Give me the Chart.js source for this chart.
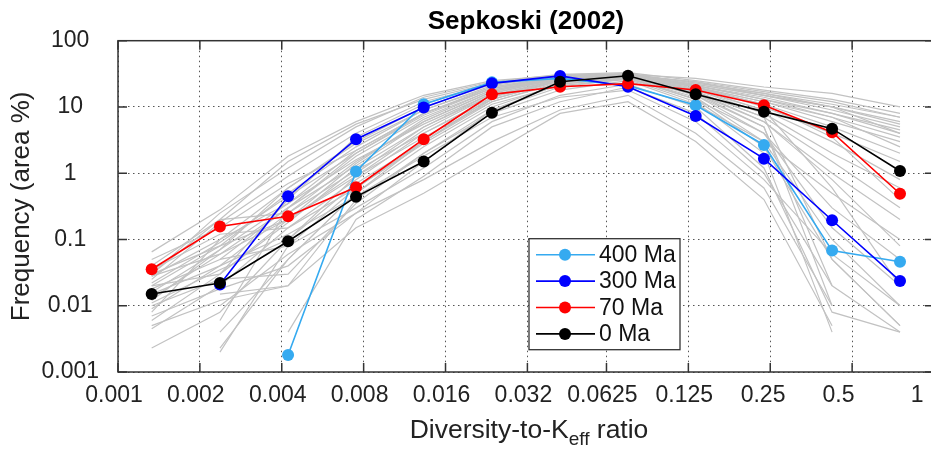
<!DOCTYPE html>
<html>
<head>
<meta charset="utf-8">
<script src="https://cdn.jsdelivr.net/npm/chart.js@4"></script>
<style>
  html, body { margin: 0; padding: 0; overflow: hidden; background: #fff; }
  #wrap { width: 940px; height: 452px; }
</style>
</head>
<body>
<div id="wrap"><canvas id="chart"></canvas></div>
<script>
// bin centres (diversity-to-K ratio), quarter-decade bins
const binCentres = [0.00133, 0.00237, 0.00422, 0.0075, 0.0133, 0.0237, 0.0422, 0.075, 0.133, 0.237, 0.422, 0.75];

const xTicks = [0.001, 0.002, 0.004, 0.008, 0.016, 0.032, 0.0625, 0.125, 0.25, 0.5, 1];
const xTickLabels = ["0.001", "0.002", "0.004", "0.008", "0.016", "0.032", "0.0625", "0.125", "0.25", "0.5", "1"];
const yTicks = [0.001, 0.01, 0.1, 1, 10, 100];
const yTickLabels = ["0.001", "0.01", "0.1", "1", "10", "100"];

const seriesNames = ["400 Ma", "300 Ma", "70 Ma", "0 Ma"];
const ma400 = [null, null, 0.0018, 1.06, 11, 23.5, 27, 21, 10.6, 2.67, 0.068, 0.046];
const ma300 = [null, 0.021, 0.45, 3.26, 9.8, 22.7, 29.4, 20.2, 7.3, 1.66, 0.195, 0.0237];
const ma70 = [0.0356, 0.157, 0.224, 0.615, 3.26, 15.5, 20.2, 22.5, 18, 10.6, 4.15, 0.49];
const ma0 = [0.015, 0.022, 0.094, 0.44, 1.5, 8.2, 24, 29.6, 15.5, 8.5, 4.7, 1.08];

// the other time slices (grey background curves)
const otherSlices = [
  [0.065, 0.28, 1.8, 6, 15, 25, 30, 31, 27, 20, 16, 10],
  [0.03, 0.25, 1.2, 5, 14, 24, 31, 33, 25, 18, 13, 8],
  [0.028, 0.1, 0.6, 3, 10, 22, 30, 30, 22, 15, 10, 6],
  [0.02, 0.08, 0.5, 2.5, 9, 20, 29, 31, 20, 12, 6, 3],
  [0.013, 0.06, 0.3, 1.8, 7, 18, 28, 30, 21, 14, 8, 4],
  [0.009, 0.04, 0.25, 1.5, 6, 17, 27, 31, 20, 10, 4, 1.5],
  [0.006, 0.03, 0.2, 1, 5, 15, 26, 30, 18, 8, 2, 0.6],
  [0.0045, 0.02, 0.15, 0.8, 4, 14, 25, 29, 16, 6, 1, 0.2],
  [0.0023, 0.008, 0.1, 0.7, 3, 12, 24, 28, 15, 4, 0.3, 0.05],
  [null, 0.0023, 0.05, 0.5, 2.5, 10, 22, 27, 14, 3, 0.1, 0.01],
  [0.03, 0.2, 0.25, 1.1, 4, 13, 25, 29, 19, 9, 3, 0.8],
  [0.028, 0.06, 0.2, 0.9, 3.5, 12, 23, 28, 17, 7, 1.5, 0.3],
  [null, 0.015, 0.02, 0.4, 2, 9, 20, 27, 13, 2.5, 0.05, 0.005],
  [null, 0.006, 0.3, 2, 8, 19, 28, 30, 16, 5, 0.02, null],
  [0.035, 0.12, 0.15, 0.6, 2.8, 11, 21, 26, 12, 2, 0.004, null],
  [null, 0.05, 0.08, 0.3, 1.2, 6, 15, 22, 10, 1.2, 0.008, 0.004],
  [0.02, 0.03, 0.4, 3.5, 11, 23, 30, 32, 23, 16, 11, 7],
  [null, null, 0.004, 0.2, 0.9, 5, 12, 20, 8, 1, 0.02, 0.004],
  [0.01, 0.025, 0.03, 0.35, 2, 8, 18, 25, 11, 3, 0.5, 0.1],
  [0.008, 0.1, 0.35, 1.6, 5.5, 16, 27, 30, 24, 15, 9, 5],
  [0.015, 0.04, 0.12, 0.45, 1.8, 7, 14, 18, 6, 0.8, 0.06, 0.01],
  [0.025, 0.18, 0.9, 4, 12, 22, 29, 32, 21, 13, 7, 2.5],
  [null, 0.01, 0.06, 0.25, 0.8, 3, 9, 15, 4, 0.6, 0.01, null],
  [0.05, 0.15, 0.7, 2.2, 8, 19, 28, 31, 22, 15, 10, 4],
  [0.005, 0.012, 0.02, 0.15, 0.5, 2, 8, 12, 3, 0.4, 0.005, null],
  [0.012, 0.07, 0.6, 2.8, 9, 21, 30, 30, 19, 11, 5, 2],
  [null, 0.002, 0.08, 0.6, 3, 14, 26, 29, 17, 6, 0.8, 0.08],
  [0.007, 0.018, 0.04, 0.25, 1.5, 9, 22, 28, 13, 4, 0.15, 0.02],
  [0.04, 0.2, 1.5, 5.5, 13, 23, 29, 30, 24, 17, 12, 7],
  [0.022, 0.09, 0.45, 2, 7.5, 19, 29, 31, 23, 16, 10, 5.5],
  [null, 0.03, 0.18, 1.2, 5, 16, 27, 30, 20, 12, 7, 3.5],
  [0.018, 0.05, 0.3, 1.3, 6, 17, 28, 30, 21, 13, 8, 4.5],
  [0.011, 0.035, 0.1, 0.9, 4.5, 15, 26, 29, 18, 9, 0.6, 0.02],
  [null, 0.004, 0.05, 0.5, 3, 13, 25, 28, 17, 7, 0.05, 0.005],
  [0.016, 0.07, 0.35, 2.2, 8, 20, 28, 29, 15, 5, 0.01, null],
  [0.03, 0.08, 0.2, 1.4, 6.5, 18, 27, 30, 20, 11, 3.5, 0.4]
];

const FONT = "'Liberation Sans', Arial, Helvetica, sans-serif";
Chart.defaults.font.family = FONT;
Chart.defaults.color = "#222";

const colours = ["#35aaf0", "#0000ff", "#ff0000", "#000000"];
const highlighted = [ma400, ma300, ma70, ma0];

function toPoints(values) {
  return values.map((v, i) => ({ x: binCentres[i], y: v }));
}

const datasets = [];
otherSlices.forEach((s) => {
  datasets.push({
    data: toPoints(s),
    borderColor: "#c2c2c2",
    borderWidth: 1.2,
    pointRadius: 0,
    order: 10,
  });
});
highlighted.forEach((s, i) => {
  datasets.push({
    label: seriesNames[i],
    data: toPoints(s),
    borderColor: colours[i],
    backgroundColor: colours[i],
    borderWidth: 1.6,
    pointRadius: 6,
    pointBorderWidth: 0,
    order: 4 - i,
  });
});

// axes box with inward ticks, like the original figure
const frame = {
  id: "frame",
  afterDatasetsDraw(chart) {
    const { ctx, chartArea: a, scales } = chart;
    ctx.save();
    ctx.strokeStyle = "#333";
    ctx.lineWidth = 1.5;
    ctx.beginPath();
    xTicks.forEach((v) => {
      const px = scales.x.getPixelForValue(v);
      ctx.moveTo(px, a.bottom);
      ctx.lineTo(px, a.bottom - 9);
      ctx.moveTo(px, a.top);
      ctx.lineTo(px, a.top + 9);
    });
    yTicks.forEach((v) => {
      const py = scales.y.getPixelForValue(v);
      ctx.moveTo(a.left, py);
      ctx.lineTo(a.left + 9, py);
      ctx.moveTo(a.right, py);
      ctx.lineTo(a.right - 9, py);
    });
    ctx.stroke();
    ctx.strokeRect(a.left, a.top, a.right - a.left, a.bottom - a.top);
    ctx.restore();
  },
};

// legend box inside the plot + x title with subscript
const extras = {
  id: "extras",
  afterDraw(chart) {
    const { ctx, chartArea: a } = chart;
    ctx.save();

    const left = a.left + 411;
    const top = a.top + 198;
    const w = 151;
    const h = 111;
    ctx.fillStyle = "#fff";
    ctx.fillRect(left, top, w, h);
    ctx.strokeStyle = "#333";
    ctx.lineWidth = 1.3;
    ctx.strokeRect(left, top, w, h);
    ctx.font = "23px " + FONT;
    ctx.textBaseline = "middle";
    ctx.textAlign = "left";
    seriesNames.forEach((name, i) => {
      const cy = top + 16 + i * 26.4;
      ctx.strokeStyle = colours[i];
      ctx.lineWidth = 1.6;
      ctx.beginPath();
      ctx.moveTo(left + 7, cy);
      ctx.lineTo(left + 66, cy);
      ctx.stroke();
      ctx.fillStyle = colours[i];
      ctx.beginPath();
      ctx.arc(left + 36, cy, 6, 0, Math.PI * 2);
      ctx.fill();
      ctx.fillStyle = "#111";
      ctx.fillText(name, left + 70, cy + 1);
    });

    // "Diversity-to-K_eff ratio"
    const main1 = "Diversity-to-K";
    const sub = "eff";
    const main2 = " ratio";
    const bigFont = "26.5px " + FONT;
    const smallFont = "19px " + FONT;
    ctx.font = bigFont;
    const w1 = ctx.measureText(main1).width;
    const w3 = ctx.measureText(main2).width;
    ctx.font = smallFont;
    const w2 = ctx.measureText(sub).width;
    const x0 = (a.left + a.right) / 2 + 3 - (w1 + w2 + w3) / 2;
    const base = a.bottom + 66;
    ctx.textBaseline = "alphabetic";
    ctx.fillStyle = "#222";
    ctx.font = bigFont;
    ctx.fillText(main1, x0, base);
    ctx.font = smallFont;
    ctx.fillText(sub, x0 + w1, base + 7);
    ctx.font = bigFont;
    ctx.fillText(main2, x0 + w1 + w2, base);
    ctx.restore();
  },
};

// small nudge so the right-hand labels sit like in the original
const labelNudge = [0, 0, 0, 0, 0, 0, 0, 0, 1, 3, 4];

new Chart(document.getElementById("chart"), {
  type: "line",
  data: { datasets: datasets },
  plugins: [frame, extras],
  options: {
    responsive: true,
    maintainAspectRatio: false,
    animation: false,
    layout: { padding: { right: 5 } },
    plugins: {
      legend: { display: false },
      tooltip: { enabled: false },
      title: {
        display: true,
        text: "Sepkoski (2002)",
        fullSize: false,
        color: "#000",
        font: { size: 26, weight: "bold" },
        padding: { top: 6, bottom: 3.5 },
      },
    },
    scales: {
      x: {
        type: "logarithmic",
        min: 0.001,
        max: 1,
        afterBuildTicks: (s) => {
          s.ticks = xTicks.map((v) => ({ value: v }));
        },
        afterFit: (s) => {
          s.height = 80;
          s.paddingRight = 0;
          s.paddingLeft = 0;
        },
        ticks: {
          autoSkip: false,
          maxRotation: 0,
          padding: 10,
          labelOffset: -4,
          color: "#222",
          font: { size: 23 },
          callback: (v, i) => xTickLabels[i] + " ".repeat(labelNudge[i]),
        },
        grid: { color: "#555", lineWidth: 1, drawTicks: false },
        border: { display: false, dash: [1.5, 3.5] },
      },
      y: {
        type: "logarithmic",
        min: 0.001,
        max: 100,
        afterBuildTicks: (s) => {
          s.ticks = yTicks.map((v) => ({ value: v }));
        },
        afterFit: (s) => {
          s.width = 118;
        },
        ticks: {
          padding: 19,
          crossAlign: "center",
          color: "#222",
          font: { size: 23 },
          callback: (v, i) => yTickLabels[i],
        },
        grid: { color: "#555", lineWidth: 1, drawTicks: false },
        border: { display: false, dash: [1.5, 3.5] },
        title: {
          display: true,
          text: "Frequency (area %)",
          color: "#222",
          font: { size: 26 },
          padding: { top: 6, bottom: 0 },
        },
      },
    },
  },
});
</script>
</body>
</html>
